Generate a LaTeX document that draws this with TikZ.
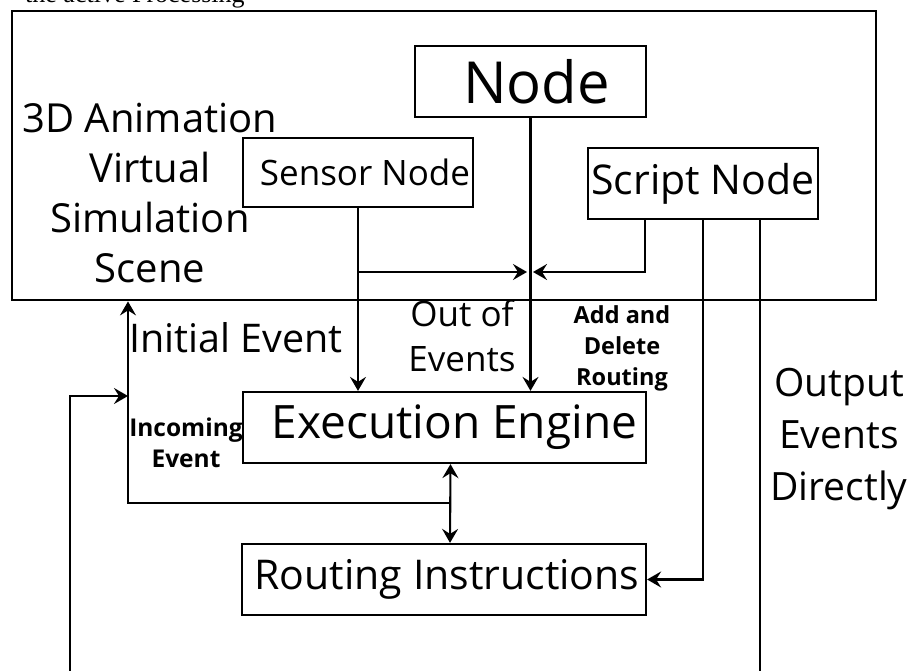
\documentclass[tikz,border=0pt]{standalone}
\usepackage{fontspec}
\setmainfont{Open Sans}
\newfontfamily\serifcut{Liberation Serif}
\usetikzlibrary{arrows.meta}
\tikzset{
  box/.style={draw, line width=2.2pt, inner sep=0pt},
  conn/.style={line width=2.1pt},
  arr/.style={conn, -{Stealth[length=14pt,width=16pt,inset=5pt]}},
  arrboth/.style={conn, {Stealth[length=14pt,width=16pt,inset=5pt]}-{Stealth[length=14pt,width=16pt,inset=5pt]}},
}
\begin{document}
\begin{tikzpicture}[x=1pt,y=-1pt]
\useasboundingbox (0,0) rectangle (912,671);
\fill[white] (0,0) rectangle (912,671);
% cut-off caption at the top
\node[anchor=base west, inner sep=0pt, font=\serifcut\fontsize{26}{30}\selectfont] (cut) at (25,3) {the active Processing};
% scene frame
\node[draw, line width=2.8pt, minimum width=864pt, minimum height=289pt, inner sep=0pt] (scene) at (444,155.5) {};
\node[font=\fontsize{40}{50}\selectfont, align=center, inner sep=0pt] (scenelabel) at (150,193) {3D Animation\\Virtual\\Simulation\\Scene};
% boxes
\node[box, minimum width=231pt, minimum height=71pt, font=\fontsize{58}{60}\selectfont] (node) at (530.5,81.5) {\hspace*{12pt}Node};
\node[box, minimum width=230pt, minimum height=69pt, font=\fontsize{35}{40}\selectfont] (sensor) at (358,172.5) {\hspace*{14pt}Sensor Node};
\node[box, minimum width=230pt, minimum height=71pt, font=\fontsize{41}{46}\selectfont] (script) at (703,183.5) {Script Node};
\node[box, minimum width=403pt, minimum height=71pt, font=\fontsize{46}{52}\selectfont] (exec) at (444.5,427.5) {\hspace*{20pt}Execution Engine};
\node[box, minimum width=404pt, minimum height=71pt, font=\fontsize{41}{46}\selectfont] (routing) at (444,579.5) {\hspace*{6pt}Routing Instructions};
% connectors
\coordinate (join) at (530,272);
\draw[arr] (sensor.south) -- (sensor.south |- exec.north);
\draw[arr] (sensor.south |- join) -- ([xshift=-3pt]join);
\draw[arr] (node.south) -- (node.south |- exec.north);
\draw[arr] ([xshift=-58pt]script.south) |- ([xshift=3pt]join);
\draw[arr] (script.south) |- (routing.east);
\coordinate (outend) at (760,671);
\draw[conn] ([xshift=57pt]script.south) -- (outend);
\draw[arrboth] ([xshift=6pt]exec.south) -- ([xshift=6pt]routing.north);
\coordinate (mid) at (450,503);
\coordinate (ie) at (128,503);
\draw[arr] (mid) -- (ie) -- (ie |- scene.south);
\coordinate (inbot) at (70,671);
\coordinate (inmeet) at (128,396);
\draw[arr] (inbot) |- (inmeet);
% labels
\node[anchor=base west, inner sep=0pt, font=\fontsize{39.5}{48}\selectfont] (initial) at (129,352) {Initial Event};
\node[align=center, inner sep=0pt, font=\fontsize{35}{45}\selectfont] (outof) at (462,336) {Out of\\Events};
\node[align=center, inner sep=0pt, font=\bfseries\fontsize{23.5}{31}\selectfont] (adddel) at (622,348) {Add and\\Delete\\Routing};
\node[align=center, inner sep=0pt, font=\bfseries\fontsize{24.5}{31}\selectfont] (incoming) at (186,443) {Incoming\\Event};
\node[align=center, inner sep=0pt, font=\fontsize{39}{52}\selectfont] (output) at (839,439) {Output\\Events\\Directly};
\end{tikzpicture}
\end{document}
